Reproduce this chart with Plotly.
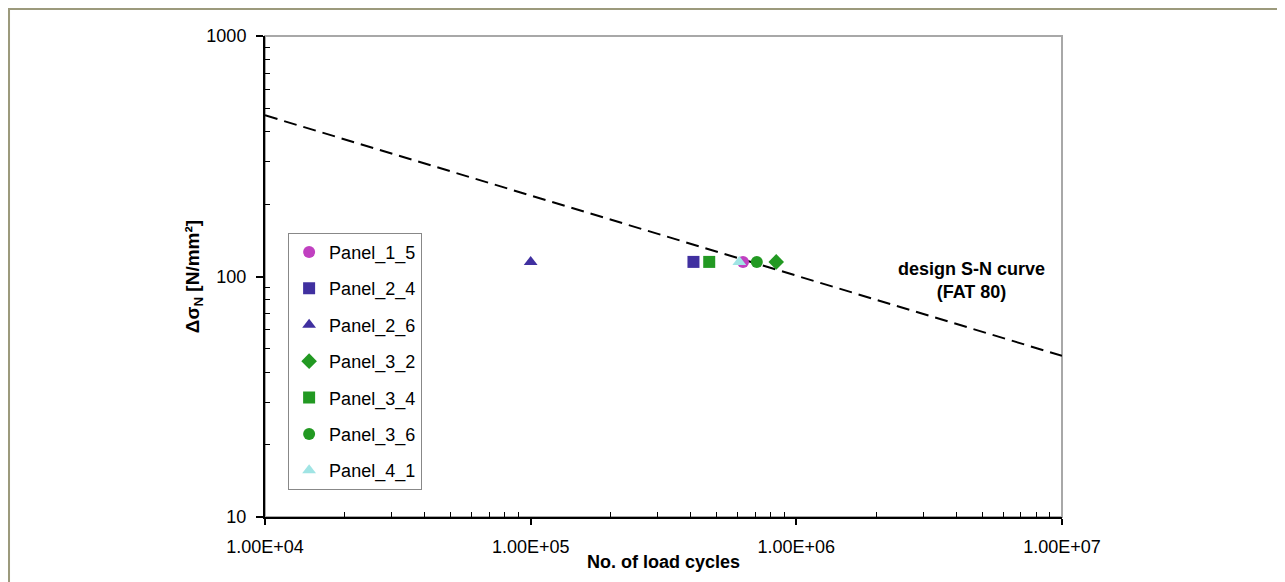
import plotly.graph_objects as go

# ---- data ----
series_names = ["Panel_1_5", "Panel_2_4", "Panel_2_6", "Panel_3_2", "Panel_3_4", "Panel_3_6", "Panel_4_1"]
cycles = [6.3e5, 4.1e5, 1.0e5, 8.4e5, 4.7e5, 7.1e5, 6.1e5]
stress = [115, 115, 115, 115, 115, 115, 115]
symbols = ["circle", "square", "triangle-up", "diamond", "square", "circle", "triangle-up"]
colors = ["#C040C0", "#4030A0", "#4030A0", "#229922", "#229922", "#229922", "#A0E4E4"]

design_N = [1e4, 1e7]
design_S = [468, 46.8]

x_tickvals = [1e4, 1e5, 1e6, 1e7]
x_ticktext = ["1.00E+04", "1.00E+05", "1.00E+06", "1.00E+07"]
y_tickvals = [10, 100, 1000]
y_ticktext = ["10", "100", "1000"]
x_minor = [m * 10 ** e for e in (4, 5, 6) for m in range(2, 10)]
y_minor = [m * 10 ** e for e in (1, 2) for m in range(2, 10)]

FONT = "Liberation Sans, Arial, sans-serif"

fig = go.Figure()

fig.add_trace(go.Scatter(
    x=design_N, y=design_S, mode="lines",
    line=dict(color="black", width=2, dash="13px,7px"),
    showlegend=False, hoverinfo="skip"))

for name, xv, yv, sym, col in zip(series_names, cycles, stress, symbols, colors):
    fig.add_trace(go.Scatter(
        x=[xv], y=[yv], mode="markers", name=name, legendgroup=name,
        marker=dict(symbol=sym, color=col, size=12, line=dict(width=0))))

fig.add_annotation(
    x=6.66, y=1.985, xref="x", yref="y",
    text="<b>design S-N curve<br>(FAT 80)</b>", showarrow=False,
    font=dict(family=FONT, size=18, color="black"), align="center")

# outer frame
frame_col = "#9C9A7C"
fig.add_shape(type="line", xref="paper", yref="paper", x0=-0.3225, x1=1.2786, y0=1.0572, y1=1.0572,
              line=dict(color=frame_col, width=3))
fig.add_shape(type="line", xref="paper", yref="paper", x0=-0.3218, x1=-0.3218, y0=1.0572, y1=-0.2,
              line=dict(color=frame_col, width=3))
fig.add_shape(type="line", xref="paper", yref="paper", x0=1.2779, x1=1.2779, y0=1.0572, y1=-0.2,
              line=dict(color=frame_col, width=2))
# plot-area grey border
fig.add_shape(type="rect", xref="paper", yref="paper", x0=0, x1=1, y0=0, y1=1,
              line=dict(color="#A8A8A8", width=2), layer="below")

fig.update_layout(
    width=1277, height=574,
    margin=dict(l=257, r=223, t=28, b=65),
    paper_bgcolor="white", plot_bgcolor="white",
    font=dict(family=FONT, size=18, color="black"),
    showlegend=True,
    legend=dict(x=0.029, y=0.591, xanchor="left", yanchor="top",
                bordercolor="#888888", borderwidth=1, bgcolor="white",
                font=dict(family=FONT, size=18, color="black"),
                tracegroupgap=10, itemsizing="constant", itemwidth=30),
    xaxis=dict(type="log", range=[4, 7], tickvals=x_tickvals, ticktext=x_ticktext,
               ticks="outside", ticklen=6, tickwidth=1.5, tickcolor="black",
               showline=True, linecolor="black", linewidth=2, showgrid=False, zeroline=False,
               minor=dict(tickvals=x_minor, ticks="inside", ticklen=5, tickwidth=1,
                          tickcolor="black", showgrid=False),
               tickfont=dict(family=FONT, size=18), ticklabelstandoff=6,
               title=dict(text="<b>No. of load cycles</b>", standoff=0,
                          font=dict(family=FONT, size=18))),
    yaxis=dict(type="log", range=[1, 3], tickvals=y_tickvals, ticktext=y_ticktext,
               ticks="outside", ticklen=7, tickwidth=1.5, tickcolor="black",
               showline=True, linecolor="black", linewidth=2, showgrid=False, zeroline=False,
               minor=dict(tickvals=y_minor, ticks="inside", ticklen=5, tickwidth=1,
                          tickcolor="black", showgrid=False),
               tickfont=dict(family=FONT, size=18), ticklabelstandoff=6,
               title=dict(text="<b>Δσ<sub>N</sub> [N/mm²]</b>", standoff=2,
                          font=dict(family=FONT, size=19))),
    xaxis2=dict(type="log", range=[4, 7], overlaying="x", anchor="y", side="bottom",
                tickvals=x_tickvals, ticks="inside", ticklen=6, tickwidth=1.5, tickcolor="black",
                showticklabels=False, showline=False, showgrid=False, zeroline=False),
    yaxis2=dict(type="log", range=[1, 3], overlaying="y", anchor="x", side="left",
                tickvals=y_tickvals, ticks="inside", ticklen=7, tickwidth=1.5, tickcolor="black",
                showticklabels=False, showline=False, showgrid=False, zeroline=False),
)

fig.write_html("out.html")
